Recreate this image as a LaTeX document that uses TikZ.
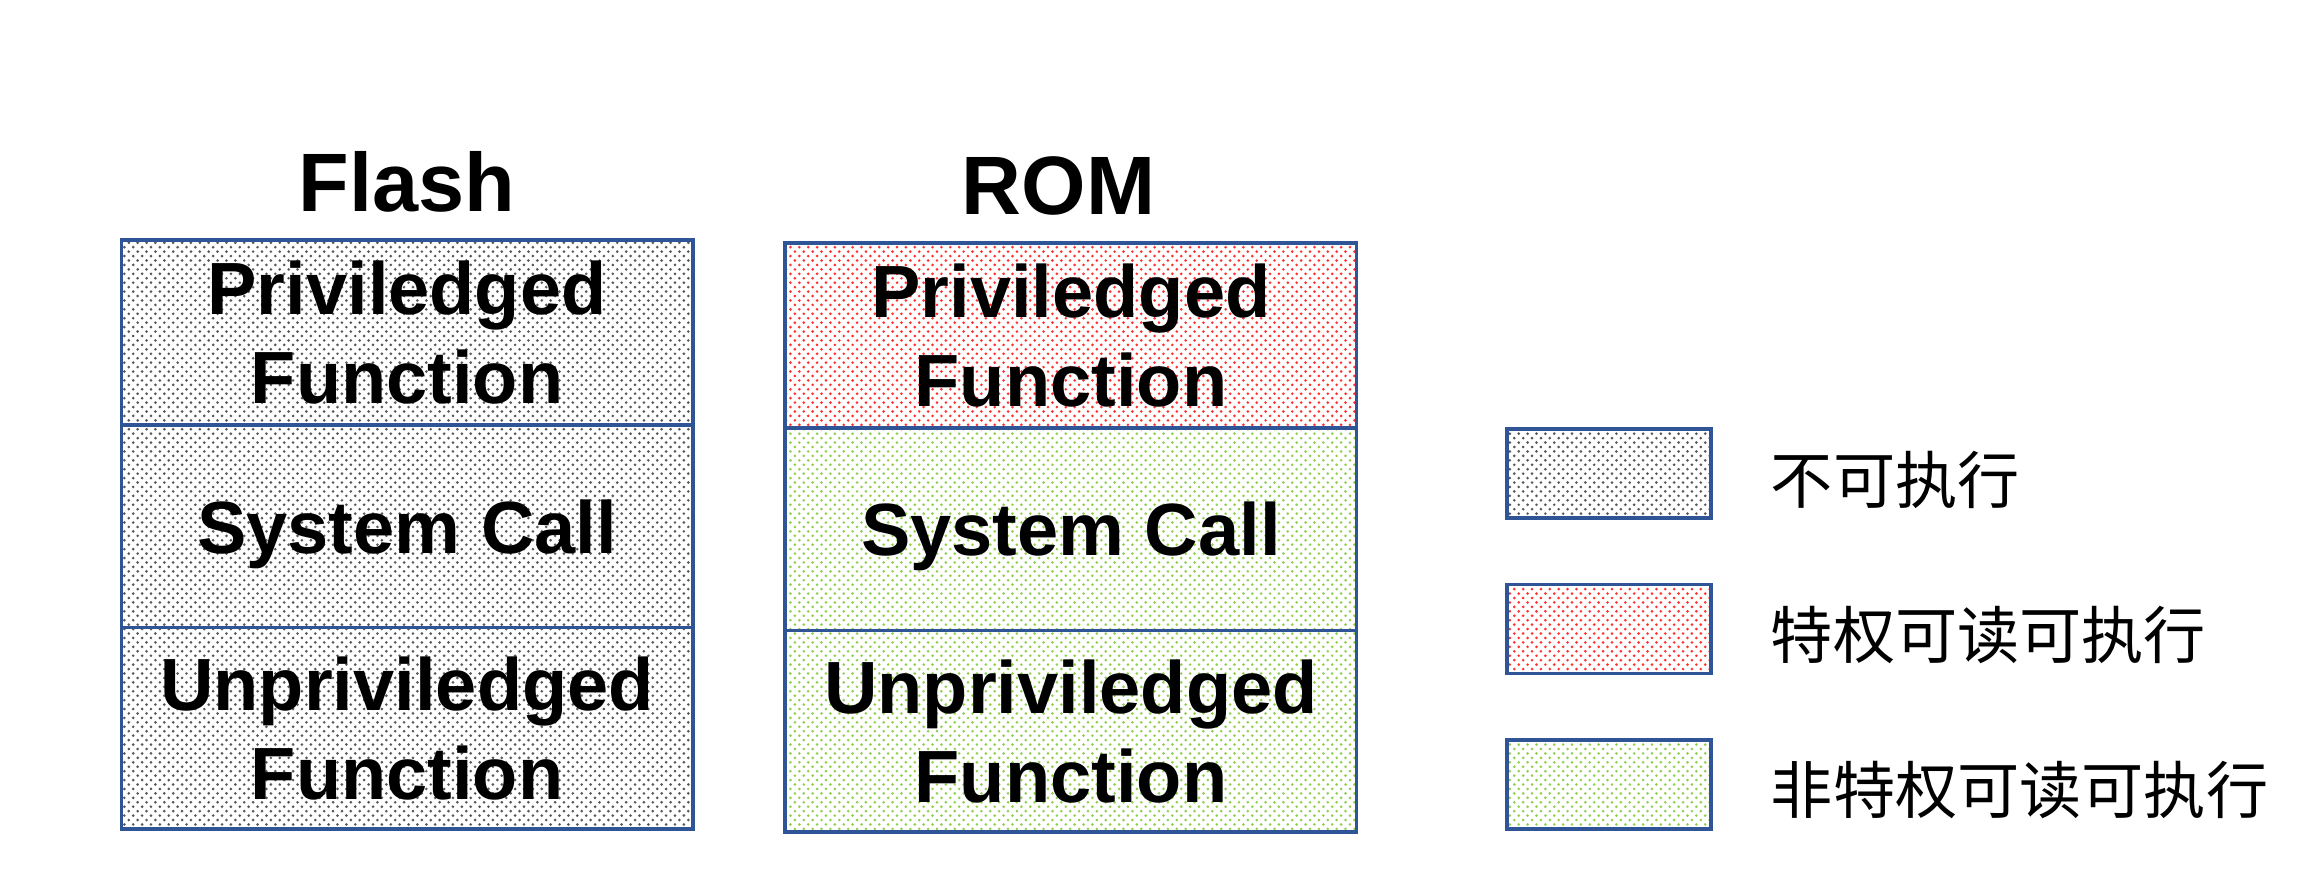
\documentclass[tikz,border=0pt]{standalone}
\usepackage{fontspec}
\setmainfont{Liberation Sans}
\newfontfamily\cjk{Noto Sans CJK SC}
\usetikzlibrary{patterns}
\definecolor{memblue}{HTML}{2F5597}
\definecolor{memgreen}{HTML}{92D050}

\begin{document}
\begin{tikzpicture}[x=0.5pt,y=-0.5pt,
  sect/.style={draw=memblue,line width=1.2pt,inner sep=0pt,outer sep=0pt,minimum width=193pt,text depth=0pt,align=center,font=\bfseries\fontsize{25}{30}\selectfont},
  noexec/.style={pattern=crosshatch dots,pattern color=black!65},
  privexec/.style={pattern=crosshatch dots,pattern color=red!80},
  userexec/.style={pattern=crosshatch dots,pattern color=memgreen},
  title/.style={anchor=base,font=\bfseries\fontsize{28}{34}\selectfont},
  key/.style={draw=memblue,line width=1.2pt,minimum width=69pt,minimum height=30pt},
  keytext/.style={anchor=west,inner sep=0pt,font=\cjk\fontsize{21}{25}\selectfont}]
\useasboundingbox (0,0) rectangle (1568,593);
% Flash
\node (flash) [title] at (275,143) {Flash};
\node (f1) [sect,noexec,minimum height=62.5pt] at (275,224.5) {Priviledged\\Function};
\node (f2) [sect,noexec,minimum height=68.5pt] at (275,355.5) {System Call};
\node (f3) [sect,noexec,minimum height=68pt] at (275,492) {Unpriviledged\\Function};
% ROM
\node (rom) [title] at (715,145) {ROM};
\node (r1) [sect,privexec,minimum height=62.5pt] at (723.5,226.5) {Priviledged\\Function};
\node (r2) [sect,userexec,minimum height=68.5pt] at (723.5,357.5) {System Call};
\node (r3) [sect,userexec,minimum height=68pt] at (723.5,494) {Unpriviledged\\Function};
% legend
\node (k1) [key,noexec] at (1087,320) {};
\node (t1) [keytext] at (1196,324) {不可执行};
\node (k2) [key,privexec] at (1087,425) {};
\node (t2) [keytext] at (1196,429) {特权可读可执行};
\node (k3) [key,userexec] at (1087,530) {};
\node (t3) [keytext] at (1196,534) {非特权可读可执行};
\end{tikzpicture}
\end{document}
